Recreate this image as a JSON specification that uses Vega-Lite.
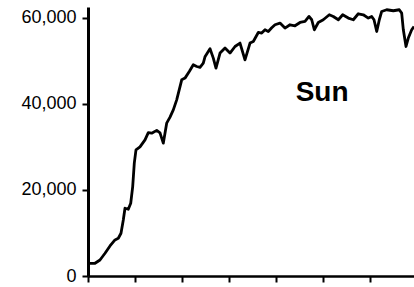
{
  "$schema": "https://vega.github.io/schema/vega-lite/v6.json",
  "width": 326,
  "height": 269,
  "autosize": {"type": "none"},
  "padding": {"left": 88, "top": 7, "right": 0, "bottom": 11},
  "background": "white",
  "config": {"view": {"stroke": null}, "font": "Liberation Sans"},
  "encoding": {
    "x": {
      "field": "t", "type": "quantitative",
      "scale": {"domain": [0, 69.36], "nice": false, "zero": false},
      "axis": {"values": [0, 10, 20, 30, 40, 50, 60], "labels": false, "grid": false, "title": null,
               "domainColor": "black", "domainWidth": 2.5, "tickColor": "black", "tickWidth": 2, "tickSize": 6}
    },
    "y": {
      "field": "v", "type": "quantitative",
      "scale": {"domain": [0, 62500], "nice": false},
      "axis": {"values": [0, 20000, 40000, 60000], "format": ",d", "grid": false, "title": null,
               "domainColor": "black", "domainWidth": 3, "tickColor": "black", "tickWidth": 2, "tickSize": 6,
               "labelFontSize": 18, "labelColor": "black", "labelPadding": 6, "labelFlush": false}
    }
  },
  "layer": [
    {
      "data": {"values": [
        {"t": 0, "v": 2953}, {"t": 1.49, "v": 2953}, {"t": 2.55, "v": 3721}, {"t": 3.62, "v": 5279},
        {"t": 4.68, "v": 6977}, {"t": 5.74, "v": 8372}, {"t": 6.45, "v": 8767}, {"t": 7.02, "v": 9930},
        {"t": 7.51, "v": 13023}, {"t": 7.87, "v": 15744}, {"t": 8.57, "v": 15512}, {"t": 9.09, "v": 16907},
        {"t": 9.51, "v": 20767}, {"t": 9.85, "v": 26209}, {"t": 10.21, "v": 29302}, {"t": 11.06, "v": 30000},
        {"t": 12.13, "v": 31628}, {"t": 12.83, "v": 33326}, {"t": 13.55, "v": 33186}, {"t": 14.62, "v": 33837},
        {"t": 15.32, "v": 33256}, {"t": 16.02, "v": 30860}, {"t": 16.74, "v": 35512}, {"t": 17.45, "v": 36907},
        {"t": 18.15, "v": 38605}, {"t": 18.87, "v": 40930}, {"t": 19.94, "v": 45581}, {"t": 20.64, "v": 45977},
        {"t": 21.55, "v": 47512}, {"t": 22.4, "v": 49070}, {"t": 23.13, "v": 48675}, {"t": 23.83, "v": 48488},
        {"t": 24.53, "v": 49465}, {"t": 24.89, "v": 50930}, {"t": 25.96, "v": 52791}, {"t": 26.66, "v": 50628},
        {"t": 27.23, "v": 48302}, {"t": 28.09, "v": 51791}, {"t": 29.15, "v": 52953}, {"t": 30.21, "v": 51791},
        {"t": 31.28, "v": 53326}, {"t": 32.34, "v": 54116}, {"t": 33.4, "v": 50233}, {"t": 34.47, "v": 54116},
        {"t": 35.17, "v": 54488}, {"t": 36.23, "v": 56581}, {"t": 36.96, "v": 56442}, {"t": 37.66, "v": 57209},
        {"t": 38.36, "v": 56814}, {"t": 39.09, "v": 57674}, {"t": 39.79, "v": 58372}, {"t": 40.85, "v": 58767},
        {"t": 41.91, "v": 57605}, {"t": 42.98, "v": 58372}, {"t": 44.04, "v": 58140}, {"t": 45.11, "v": 58907},
        {"t": 46.17, "v": 59140}, {"t": 47.02, "v": 60302}, {"t": 47.6, "v": 59535}, {"t": 48.15, "v": 57209},
        {"t": 49.0, "v": 58907}, {"t": 50.06, "v": 59535}, {"t": 51.34, "v": 60698}, {"t": 52.19, "v": 60302},
        {"t": 53.26, "v": 59535}, {"t": 54.19, "v": 60698}, {"t": 55.38, "v": 59930}, {"t": 56.45, "v": 59535},
        {"t": 57.51, "v": 60930}, {"t": 58.57, "v": 60698}, {"t": 59.64, "v": 59930}, {"t": 60.36, "v": 60302},
        {"t": 60.85, "v": 59535}, {"t": 61.43, "v": 56814}, {"t": 61.98, "v": 59535}, {"t": 62.49, "v": 61465},
        {"t": 63.55, "v": 61861}, {"t": 64.96, "v": 61628}, {"t": 66.23, "v": 61861}, {"t": 66.74, "v": 61093},
        {"t": 67.09, "v": 57209}, {"t": 67.66, "v": 53326}, {"t": 68.15, "v": 55279}, {"t": 68.87, "v": 57209},
        {"t": 69.36, "v": 57977}
      ]},
      "mark": {"type": "line", "color": "black", "strokeWidth": 2.8, "clip": true, "strokeJoin": "round"}
    },
    {
      "data": {"values": [{"label": "Sun", "t": 49.8, "v": 40700}]},
      "mark": {"type": "text", "fontSize": 28, "fontWeight": "bold", "align": "center", "baseline": "alphabetic", "color": "black"},
      "encoding": {
        "text": {"field": "label"}
      }
    }
  ]
}
